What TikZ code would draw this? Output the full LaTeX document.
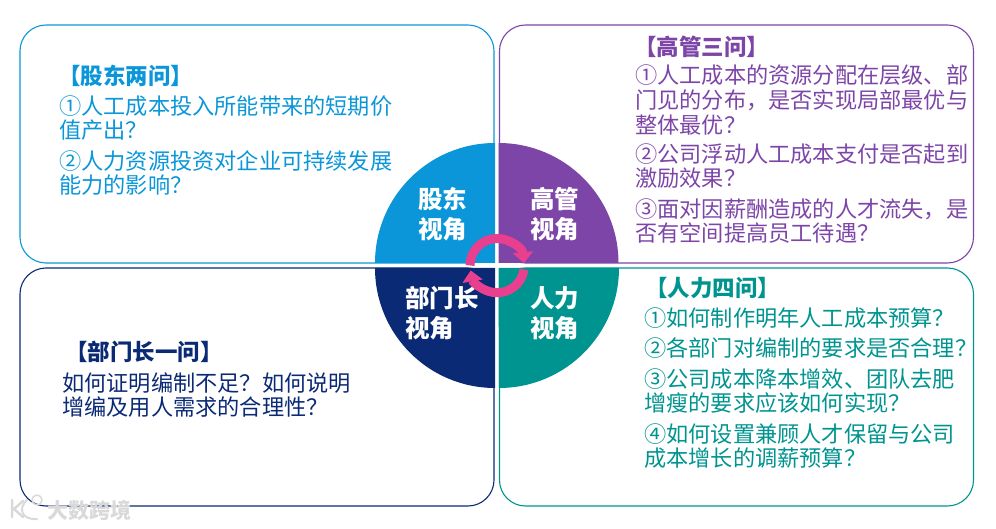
\documentclass[tikz,border=0pt]{standalone}
\usepackage{fontspec}
\setmainfont{Noto Sans CJK SC}
\usetikzlibrary{arrows.meta,positioning}
\definecolor{gdblue}{HTML}{0A96D8}
\definecolor{ggpurple}{HTML}{7D45A8}
\definecolor{bmnavy}{HTML}{0B2A75}
\definecolor{rlteal}{HTML}{009490}
\definecolor{ringpink}{HTML}{E8408F}
\newcommand{\cnum}[1]{\makebox[22.2pt]{#1}}
\newcommand{\qmark}{\char"FF1F\relax}
\newcommand{\cmark}{\char"FF0C\relax}
\begin{document}
\begin{tikzpicture}[
    x=1pt, y=1pt,
    panel/.style={rectangle, draw, rounded corners=26pt, minimum width=474pt, minimum height=238pt, line width=1.1pt, inner sep=0pt},
    para/.style={anchor=west, align=left, inner sep=0pt, font=\fontsize{22.2}{24.6}\selectfont},
    head/.style={anchor=west, inner sep=0pt, font=\fontsize{22.5}{24}\selectfont\bfseries},
    view/.style={align=left, text=white, inner sep=0pt, font=\fontsize{24.5}{30}\selectfont\bfseries},
    ring/.style={draw=ringpink, line width=9pt, -{Triangle[length=11pt, width=20pt]}}
]
    \useasboundingbox (0,0) rectangle (996,528);

    \node[panel, draw=gdblue] (gdpanel) at (257,384) {};
    \node[panel, draw=ggpurple] (ggpanel) at (736.5,384) {};
    \node[panel, draw=bmnavy] (bmpanel) at (257,141) {};
    \node[panel, draw=rlteal] (rlpanel) at (736.5,141) {};

    % quarter discs
    \fill[gdblue] (495,265) -- (375,265) arc (180:90:120) -- cycle;
    \fill[ggpurple] (498.5,265) -- (498.5,385) arc (90:0:120) -- cycle;
    \fill[bmnavy] (495,260) -- (495,140) arc (270:180:120) -- cycle;
    \fill[rlteal] (498.5,260) -- (619,260) arc (0:-90:120) -- cycle;

    \node[view] (gdview) at (442.5,314) {股东\\视角};
    \node[view] (ggview) at (554.5,314) {高管\\视角};
    \node[view] (bmview) at (442,214.5) {部门长\\视角};
    \node[view] (rlview) at (554.5,214.5) {人力\\视角};

    % ring arrows
    \draw[ring] (470,262.5) arc (180:5:27);
    \draw[ring] (524,258.5) arc (-8:-170:27);

    \node[head, text=gdblue] (gdhead) at (58,452) {【股东两问】};
    \node[para, text=gdblue] (gdone) at (59,410) {\cnum{①}人工成本投入所能带来的短期价\\值产出\qmark};
    \node[para, text=gdblue] (gdtwo) at (59,355) {\cnum{②}人力资源投资对企业可持续发展\\能力的影响\qmark};

    \node[head, text=ggpurple] (gghead) at (634,481) {【高管三问】};
    \node[para, text=ggpurple] (ggone) at (635,428) {\cnum{①}人工成本的资源分配在层级、部\\门见的分布\cmark 是否实现局部最优与\\整体最优\qmark};
    \node[para, text=ggpurple] (ggtwo) at (635,362) {\cnum{②}公司浮动人工成本支付是否起到\\激励效果\qmark};
    \node[para, text=ggpurple] (ggthr) at (635,307) {\cnum{③}面对因薪酬造成的人才流失\cmark 是\\否有空间提高员工待遇\qmark};

    \node[head, text=bmnavy] (bmhead) at (65,176) {【部门长一问】};
    \node[para, text=bmnavy] (bmone) at (62,133) {如何证明编制不足\qmark 如何说明\\增编及用人需求的合理性\qmark};

    \node[head, text=rlteal] (rlhead) at (645,240) {【人力四问】};
    \node[para, text=rlteal] (rlone) at (644,210) {\cnum{①}如何制作明年人工成本预算\qmark};
    \node[para, text=rlteal] (rltwo) at (644,180) {\cnum{②}各部门对编制的要求是否合理\qmark};
    \node[para, text=rlteal] (rlthr) at (644,137) {\cnum{③}公司成本降本增效、团队去肥\\增瘦的要求应该如何实现\qmark};
    \node[para, text=rlteal] (rlfou) at (644,82) {\cnum{④}如何设置兼顾人才保留与公司\\成本增长的调薪预算\qmark};

    % faint mark at the foot
    \draw[black!15, line width=2.5pt, line cap=round] (12,28) -- (12,11) (23,27) -- (14,19) -- (23,11);
    \draw[black!15, line width=2pt, line cap=round] (27,28) .. controls (18,20) and (21,8) .. (37,9);
    \draw[black!15, line width=1.5pt] (37,28) circle (5);
    \node[anchor=west, inner sep=0pt, text=black!15, font=\fontsize{21}{24}\selectfont\bfseries] (mark) at (47,18) {大数跨境};
\end{tikzpicture}
\end{document}
